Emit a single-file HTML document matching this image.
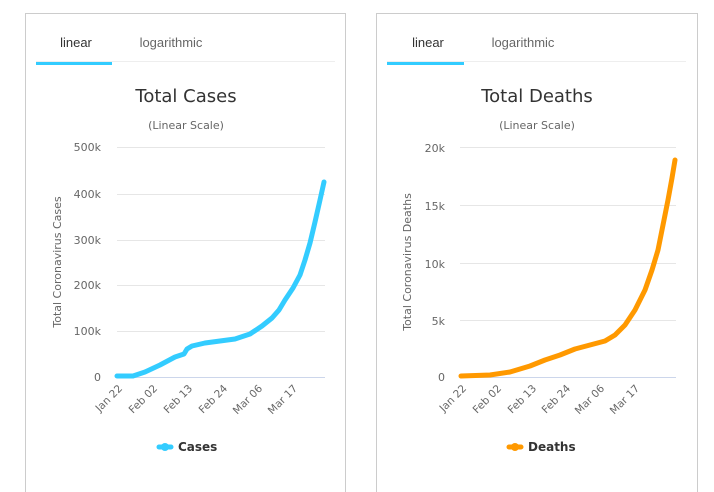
<!DOCTYPE html>
<html><head><meta charset="utf-8"><style>
body{margin:0;background:#fff;}
svg{display:block;font-family:"DejaVu Sans",sans-serif;}
</style></head><body>
<svg width="714" height="492" viewBox="0 0 714 492">
<rect x="25.5" y="13.5" width="320" height="490" fill="none" stroke="#ccc"/>
<rect x="376.5" y="13.5" width="321" height="490" fill="none" stroke="#ccc"/>
<g font-family="Liberation Sans, sans-serif" font-size="13">
<line x1="36" y1="61.5" x2="335" y2="61.5" stroke="#eee"/>
<rect x="36" y="62" width="76" height="3" fill="#33ccff"/>
<text x="76" y="47" text-anchor="middle" fill="#333">linear</text>
<text x="171" y="47" text-anchor="middle" fill="#666">logarithmic</text>
<line x1="387" y1="61.5" x2="686" y2="61.5" stroke="#eee"/>
<rect x="387" y="62" width="77" height="3" fill="#33ccff"/>
<text x="428" y="47" text-anchor="middle" fill="#333">linear</text>
<text x="523" y="47" text-anchor="middle" fill="#666">logarithmic</text>
</g>
<text x="186" y="102" text-anchor="middle" font-size="18" fill="#333">Total Cases</text>
<text x="186" y="129" text-anchor="middle" font-size="11" fill="#666">(Linear Scale)</text>
<g stroke="#e6e6e6"><line x1="117" y1="147.5" x2="325" y2="147.5"/><line x1="117" y1="194.5" x2="325" y2="194.5"/><line x1="117" y1="240.5" x2="325" y2="240.5"/><line x1="117" y1="285.5" x2="325" y2="285.5"/><line x1="117" y1="331.5" x2="325" y2="331.5"/></g>
<line x1="117" y1="377.5" x2="325" y2="377.5" stroke="#ccd6eb"/>
<g font-size="11" fill="#666" text-anchor="end"><text x="101" y="151">500k</text><text x="101" y="198">400k</text><text x="101" y="244">300k</text><text x="101" y="289">200k</text><text x="101" y="335">100k</text><text x="101" y="381">0</text></g>
<text transform="translate(61,262) rotate(-90)" text-anchor="middle" font-size="11" fill="#666">Total Coronavirus Cases</text>
<g font-size="10.5" fill="#666" text-anchor="end">
<text transform="translate(123,389) rotate(-45)">Jan 22</text><text transform="translate(158,389) rotate(-45)">Feb 02</text><text transform="translate(193,389) rotate(-45)">Feb 13</text><text transform="translate(228,389) rotate(-45)">Feb 24</text><text transform="translate(263,389) rotate(-45)">Mar 06</text><text transform="translate(298,389) rotate(-45)">Mar 17</text></g>
<polyline fill="none" stroke="#33ccff" stroke-width="5" stroke-linejoin="round" stroke-linecap="round" points="117,376 133,376 145,372 160,365 175,357 184,354 187,349 192,346 205,343 220,341 235,339 250,334 262,326 272,318 279,310 285,300 293,288 300,275 305,260 310,243 315,222 320,200 324,182"/>
<line x1="159" y1="447" x2="171" y2="447" stroke="#33ccff" stroke-width="5" stroke-linecap="round"/>
<circle cx="165" cy="447" r="4" fill="#33ccff"/>
<text x="178" y="451" font-size="12" font-weight="bold" fill="#333">Cases</text>
<text x="537" y="102" text-anchor="middle" font-size="18" fill="#333">Total Deaths</text>
<text x="537" y="129" text-anchor="middle" font-size="11" fill="#666">(Linear Scale)</text>
<g stroke="#e6e6e6"><line x1="460" y1="147.5" x2="676" y2="147.5"/><line x1="460" y1="205.5" x2="676" y2="205.5"/><line x1="460" y1="263.5" x2="676" y2="263.5"/><line x1="460" y1="320.5" x2="676" y2="320.5"/></g>
<line x1="460" y1="377.5" x2="676" y2="377.5" stroke="#ccd6eb"/>
<g font-size="11" fill="#666" text-anchor="end"><text x="445" y="152">20k</text><text x="445" y="210">15k</text><text x="445" y="268">10k</text><text x="445" y="325">5k</text><text x="445" y="381">0</text></g>
<text transform="translate(411,262) rotate(-90)" text-anchor="middle" font-size="11" fill="#666">Total Coronavirus Deaths</text>
<g font-size="10.5" fill="#666" text-anchor="end">
<text transform="translate(467,389) rotate(-45)">Jan 22</text><text transform="translate(502,389) rotate(-45)">Feb 02</text><text transform="translate(537,389) rotate(-45)">Feb 13</text><text transform="translate(571,389) rotate(-45)">Feb 24</text><text transform="translate(605,389) rotate(-45)">Mar 06</text><text transform="translate(640,389) rotate(-45)">Mar 17</text></g>
<polyline fill="none" stroke="#ff9900" stroke-width="5" stroke-linejoin="round" stroke-linecap="round" points="461,376 490,375 510,372 530,366 545,360 560,355 575,349 590,345 605,341 615,335 625,325 635,310 645,290 652,270 658,250 663,225 668,200 672,178 675,160"/>
<line x1="509" y1="447" x2="521" y2="447" stroke="#ff9900" stroke-width="5" stroke-linecap="round"/>
<circle cx="515" cy="447" r="4" fill="#ff9900"/>
<text x="528" y="451" font-size="12" font-weight="bold" fill="#333">Deaths</text>
</svg>
</body></html>
